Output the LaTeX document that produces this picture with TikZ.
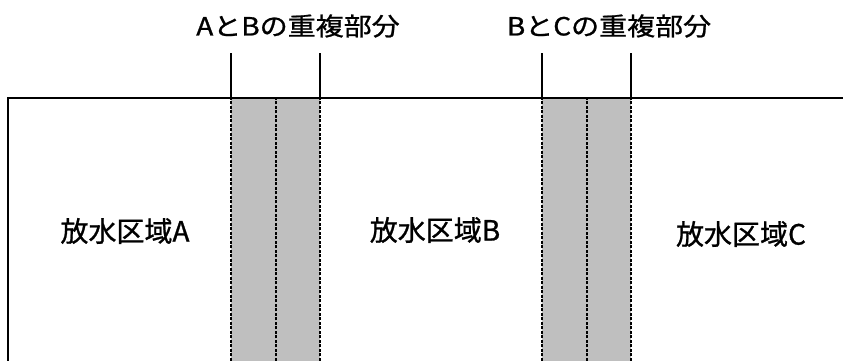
\documentclass[tikz,border=0pt]{standalone}
\usepackage{graphicx}
\usepackage{fontspec}
\newfontfamily\jpfont[FakeBold=0.9]{Noto Sans CJK JP}
\newcommand{\widelabel}[1]{\scalebox{1.12}[1]{#1}}

\begin{document}
\begin{tikzpicture}[x=1pt, y=1pt,
    edge/.style={line width=1.7pt},
    overlap/.style={fill=black!25, draw=none},
    seam/.style={line width=1.3pt, dash pattern=on 3pt off 1.5pt},
    area/.style={font=\jpfont\fontsize{28}{32}\selectfont, inner sep=0pt},
    title/.style={font=\jpfont\fontsize{25}{28}\selectfont, inner sep=0pt}
]
\useasboundingbox (0,0) rectangle (843,361);

% Overlap bands
\fill[overlap] (231,0) rectangle (320,263);
\fill[overlap] (542,0) rectangle (631,263);

% Band borders
\draw[seam] (231,0) -- (231,263);
\draw[seam] (276,0) -- (276,263);
\draw[seam] (320,0) -- (320,263);
\draw[seam] (542,0) -- (542,263);
\draw[seam] (587,0) -- (587,263);
\draw[seam] (631,0) -- (631,263);

% Outline and markers
\draw[edge] (8,0) -- (8,263) -- (843,263);
\draw[edge] (231,263) -- (231,308);
\draw[edge] (320,263) -- (320,308);
\draw[edge] (542,263) -- (542,308);
\draw[edge] (631,263) -- (631,308);

% Labels
\node[title] (overlapAB) at (298,335) {\widelabel{AとBの重複部分}};
\node[title] (overlapBC) at (609,335) {\widelabel{BとCの重複部分}};
\node[area] (zoneA) at (125,130) {放水区域A};
\node[area] (zoneB) at (435,131) {放水区域B};
\node[area] (zoneC) at (741,127) {放水区域C};

\end{tikzpicture}
\end{document}
